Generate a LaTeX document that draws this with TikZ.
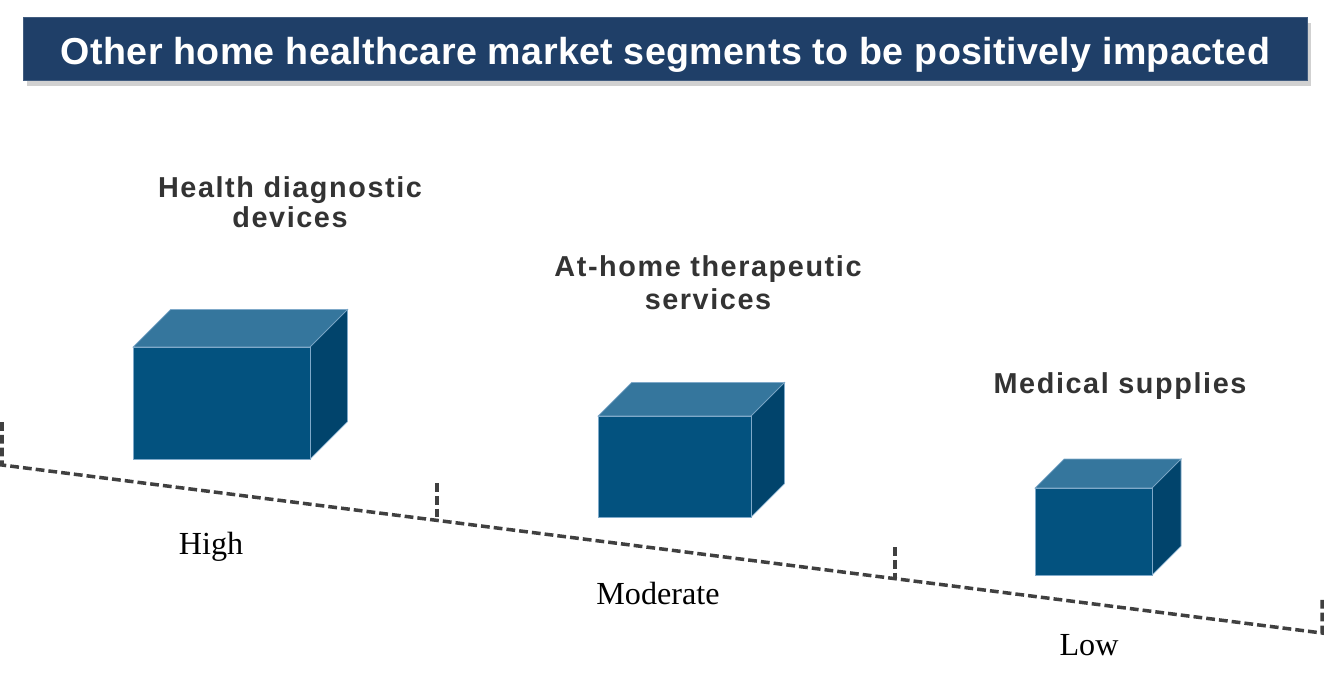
\documentclass[tikz,border=0pt]{standalone}
\usepackage{fontspec}
\setmainfont{Liberation Serif}
\setsansfont{Liberation Sans}
\usetikzlibrary{shadows}

\definecolor{titleblue}{HTML}{1F3F68}
\definecolor{cubefront}{HTML}{03527F}
\definecolor{cubetop}{HTML}{35769D}
\definecolor{cubeside}{HTML}{01446C}
\definecolor{cubeedge}{HTML}{7FA9C9}
\definecolor{headgray}{HTML}{333333}
\definecolor{scalegray}{HTML}{404040}

\begin{document}
\begin{tikzpicture}[
        x=0.02cm, y=-0.02cm,
        titlebar/.style={rectangle, fill=titleblue, draw=titleblue!85!white, line width=0.5pt,
            minimum width=25.7cm, minimum height=1.26cm, inner sep=0pt,
            text height=0.62cm, text depth=0cm, text=white,
            font=\sffamily\bfseries\fontsize{21.4}{24}\selectfont\addfontfeature{LetterSpace=1},
            drop shadow={shadow xshift=2pt, shadow yshift=-3.5pt, opacity=0.3, fill=black!60}},
        heading/.style={anchor=north, inner sep=0pt, align=center, text=headgray,
            font=\sffamily\bfseries\fontsize{16.4}{17}\selectfont\addfontfeature{LetterSpace=5.5}},
        level/.style={anchor=base, inner sep=0pt, font=\fontsize{18.3}{20}\selectfont},
        face/.style={draw=cubeedge, line width=0.4pt, line join=miter},
        scaleline/.style={draw=scalegray, line width=2pt, dash pattern=on 5pt off 2.3pt}
    ]

    % Page frame
    \useasboundingbox (0,0) rectangle (1329,684);

    % Title bar
    \node[titlebar] (title) at (665.5,48.5) {Other home healthcare market segments to be positively impacted};

    % Segment headings
    \node[heading] (diag) at (290,176) {Health diagnostic\\devices};
    \node[heading] (ther) at (708,255) {At-home therapeutic\\[1.7pt]services};
    \node[heading] (supp) at (1120,372) {Medical supplies};

    % Boxes: front left / top / right / bottom / depth
    \foreach \l/\t/\r/\b/\d in {133/347/310/459/37.5, 598/416/751/517/33.5, 1035/488/1152/575/29}{
        \fill[face, fill=cubetop] (\l,\t) -- (\l+\d,\t-\d) -- (\r+\d,\t-\d) -- (\r,\t) -- cycle;
        \fill[face, fill=cubeside] (\r,\t) -- (\r+\d,\t-\d) -- (\r+\d,\b-\d) -- (\r,\b) -- cycle;
        \fill[face, fill=cubefront] (\l,\t) rectangle (\r,\b);
    }

    % Impact scale
    \coordinate (t1a) at (2,422);
    \coordinate (t1b) at (2,465);
    \coordinate (t2a) at (437,483);
    \coordinate (t2b) at (437,520.4);
    \coordinate (t3a) at (895,547);
    \coordinate (t3b) at (895,578.6);
    \coordinate (t4a) at (1322,599);
    \coordinate (t4b) at (1322,633);
    \draw[scaleline] (t1a) -- (t1b) -- (t4b) -- (t4a);
    \draw[scaleline] (t2a) -- (t2b);
    \draw[scaleline] (t3a) -- (t3b);

    % Levels
    \node[level] (high) at (211,554) {High};
    \node[level] (mod) at (658,604) {Moderate};
    \node[level] (low) at (1089,655) {Low};

\end{tikzpicture}
\end{document}
